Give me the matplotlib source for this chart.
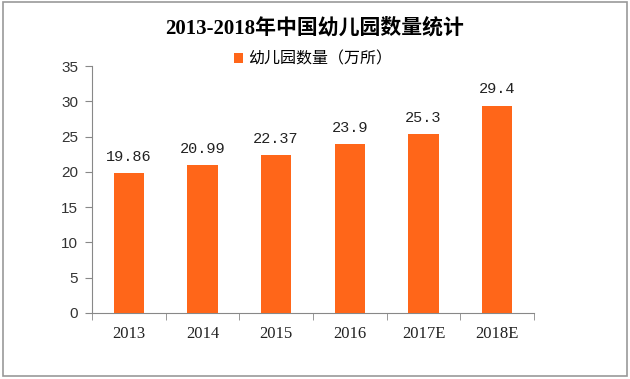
import numpy as np
import matplotlib.pyplot as plt
from matplotlib.patches import Rectangle

plt.rcParams['font.family'] = ['Noto Sans CJK SC', 'DejaVu Sans']

years = ['2013', '2014', '2015', '2016', '2017E', '2018E']
counts = [19.86, 20.99, 22.37, 23.9, 25.3, 29.4]
count_labels = ['19.86', '20.99', '22.37', '23.9', '25.3', '29.4']
yticks = [0, 5, 10, 15, 20, 25, 30, 35]

orange = '#FF6619'

fig = plt.figure(figsize=(6.3, 3.79), dpi=100)
ax = fig.add_axes([92/630, 1 - 313/379, 442/630, 247/379])

x = np.arange(len(years))
bars = ax.bar(x, counts, width=0.41, color=orange, label='幼儿园数量（万所）', zorder=3)

for xi, v, s in zip(x, counts, count_labels):
    ax.text(xi, v + 1.3, s, ha='center', va='bottom', fontsize=11,
            family=['Liberation Mono', 'DejaVu Sans Mono'], color='#222222')

ax.set_xlim(-0.5, len(years) - 0.5)
ax.set_ylim(0, 35)
ax.set_yticks(yticks)
ax.set_yticklabels([str(t) for t in yticks], fontsize=11, family=['Liberation Sans'], color='#333333')
ax.set_xticks(x)
ax.set_xticklabels(years, fontsize=12, family=['Liberation Serif'], color='#222222')
ax.set_xticks(np.arange(len(years) + 1) - 0.5, minor=True)
ax.tick_params(axis='x', which='major', length=0, pad=9)
ax.tick_params(axis='x', which='minor', length=5, color='#888888', direction='out')
ax.tick_params(axis='y', length=5, color='#888888', direction='out', pad=5)

for side in ['top', 'right']:
    ax.spines[side].set_visible(False)
ax.spines['left'].set_color('#888888')
ax.spines['bottom'].set_color('#888888')

fig.text(0.5, 1 - 28/379, '2013-2018年中国幼儿园数量统计', ha='center', va='center',
         fontsize=15, fontweight='bold', family=['Liberation Serif', 'Noto Sans CJK SC'])

fig.legend(loc='center', bbox_to_anchor=(313/630, 1 - 59/379), frameon=False,
           fontsize=11.5, handlelength=0.6, handleheight=0.6, handletextpad=0.3)

fig.patches.append(Rectangle((0.004, 0.008), 0.992, 0.987, transform=fig.transFigure,
                             fill=False, edgecolor='#999999', linewidth=1.2))

fig.savefig('out.png', dpi=100)
